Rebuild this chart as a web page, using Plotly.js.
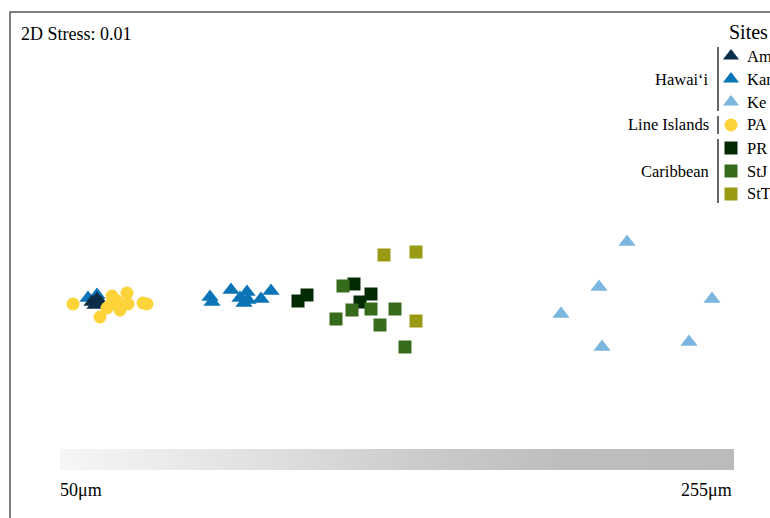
<!DOCTYPE html>
<html>
<head>
<meta charset="utf-8">
<script src="https://cdn.plot.ly/plotly-3.0.1.min.js"></script>
<style>html,body{margin:0;padding:0;background:#fff;}#chart{width:770px;height:518px;}</style>
</head>
<body>
<div id="chart"></div>
<script>
// NMDS coordinates per site
const am_x  = [0.42, 0.47, 0.45, 0.51];
const am_y  = [-0.02, 0.01, -0.05, -0.03];
const kan_x = [0.38, 0.47, 1.60, 1.62, 1.81, 1.97, 1.90, 1.94, 1.98, 2.11, 2.21];
const kan_y = [0.02, 0.05, 0.03, -0.02, 0.10, 0.08, 0.02, -0.03, 0.00, 0.01, 0.09];
const ke_x  = [5.77, 5.49, 6.62, 5.11, 5.52, 6.39];
const ke_y  = [0.58, 0.13, 0.01, -0.14, -0.47, -0.42];
const pa_x  = [0.23, 0.62, 0.77, 0.78, 0.60, 0.70, 0.50, 0.93, 0.97, 0.57, 0.67];
const pa_y  = [-0.04, 0.04, 0.07, -0.04, -0.05, -0.10, -0.17, -0.03, -0.04, -0.08, -0.01];
const pr_x  = [2.48, 2.57, 3.04, 3.10, 3.21];
const pr_y  = [-0.01, 0.05, 0.16, -0.02, 0.06];
const stj_x = [2.93, 3.02, 3.21, 3.45, 2.86, 3.30, 3.55];
const stj_y = [0.14, -0.10, -0.09, -0.09, -0.19, -0.25, -0.47];
const stt_x = [3.34, 3.66, 3.66];
const stt_y = [0.45, 0.48, -0.21];

const siteNames  = ["Am", "Kan", "Ke", "PA", "PR", "StJ", "StT"];
const regionNames = ["Hawai\u2018i", "Line Islands", "Caribbean"];
const regionSites = [[0, 2], [3, 3], [4, 6]];
const stressLabel = "2D Stress: 0.01";
const sizeLabels = ["50\u03bcm", "255\u03bcm"];

const W = 770, H = 518;
const px = x => x / W;
const py = y => 1 - y / H;
const FONT = "Liberation Serif";

const styles = {
  Am:  {color: "#0c2d48", symbol: "triangle-up", size: 15},
  Kan: {color: "#0b74b6", symbol: "triangle-up", size: 15},
  Ke:  {color: "#7ab6e0", symbol: "triangle-up", size: 15},
  PA:  {color: "#fdd33a", symbol: "circle", size: 13},
  PR:  {color: "#032b03", symbol: "square", size: 13},
  StJ: {color: "#376b1c", symbol: "square", size: 13},
  StT: {color: "#999913", symbol: "square", size: 13}
};
const siteData = {
  Am: [am_x, am_y], Kan: [kan_x, kan_y], Ke: [ke_x, ke_y], PA: [pa_x, pa_y],
  PR: [pr_x, pr_y], StJ: [stj_x, stj_y], StT: [stt_x, stt_y]
};
const drawOrder = ["Kan", "Ke", "Am", "PA", "PR", "StJ", "StT"];

const traces = drawOrder.map(s => ({
  type: "scatter", mode: "markers", name: s,
  x: siteData[s][0], y: siteData[s][1],
  marker: {color: styles[s].color, symbol: styles[s].symbol, size: styles[s].size, opacity: 1, line: {width: 0}},
  showlegend: false, hoverinfo: "skip", xaxis: "x", yaxis: "y"
}));

// legend markers (decoration, on a pixel-like overlay axis)
const legY0 = 56, legStep = 23, legSymX = 731, legTxtX = 745;
siteNames.forEach((s, i) => {
  traces.push({
    type: "scatter", mode: "markers",
    x: [legSymX], y: [legY0 + i * legStep],
    marker: {color: styles[s].color, symbol: styles[s].symbol,
      size: styles[s].symbol === "triangle-up" ? 14 : 13, opacity: 1, line: {width: 0}},
    showlegend: false, hoverinfo: "skip", xaxis: "x2", yaxis: "y2"
  });
});

// size gradient bar
const nGrad = 200;
const gradZ = [Array.from({length: nGrad}, (_, i) => i)];
traces.push({
  type: "heatmap", z: gradZ, xaxis: "x3", yaxis: "y3", showscale: false, hoverinfo: "skip",
  colorscale: [[0, "#f6f6f6"], [0.3, "#e0e0e0"], [0.55, "#cacaca"], [0.75, "#bebebe"], [1, "#bbbbbb"]]
});

const annotations = [];
annotations.push({text: stressLabel, xref: "paper", yref: "paper", x: px(19), y: py(34),
  xanchor: "left", yanchor: "middle", showarrow: false, font: {family: FONT, size: 18, color: "#000"}});
annotations.push({text: "Sites", xref: "paper", yref: "paper", x: px(748), y: py(32),
  xanchor: "center", yanchor: "middle", showarrow: false, font: {family: FONT, size: 20, color: "#000"}});
siteNames.forEach((s, i) => {
  annotations.push({text: s, xref: "paper", yref: "paper", x: px(legTxtX), y: py(legY0 + i * legStep),
    xanchor: "left", yanchor: "middle", showarrow: false, font: {family: FONT, size: 16.5, color: "#000"}});
});
const shapes = [];
regionNames.forEach((r, k) => {
  const [a, b] = regionSites[k];
  const yc = legY0 + (a + b) / 2 * legStep;
  annotations.push({text: r, xref: "paper", yref: "paper", x: px(711), y: py(yc),
    xanchor: "right", yanchor: "middle", showarrow: false, font: {family: FONT, size: 16.5, color: "#000"}});
  shapes.push({type: "line", xref: "paper", yref: "paper", x0: px(718), x1: px(718),
    y0: py(legY0 + a * legStep - 9), y1: py(legY0 + b * legStep + 9), line: {color: "#000", width: 1.2}});
});
annotations.push({text: sizeLabels[0], xref: "paper", yref: "paper", x: px(58), y: py(490),
  xanchor: "left", yanchor: "middle", showarrow: false, font: {family: FONT, size: 18, color: "#000"}});
annotations.push({text: sizeLabels[1], xref: "paper", yref: "paper", x: px(734), y: py(490),
  xanchor: "right", yanchor: "middle", showarrow: false, font: {family: FONT, size: 18, color: "#000"}});

// outer frame (extends beyond the visible window)
shapes.push({type: "rect", xref: "paper", yref: "paper", x0: px(10), x1: 1.1, y0: -0.1, y1: py(12),
  line: {color: "#555555", width: 1.5}, fillcolor: "rgba(0,0,0,0)"});

const hidden = {showgrid: false, zeroline: false, showticklabels: false, ticks: "", showline: false, fixedrange: true};
const layout = {
  width: W, height: H, margin: {l: 0, r: 0, t: 0, b: 0},
  paper_bgcolor: "#fff", plot_bgcolor: "rgba(0,0,0,0)",
  font: {family: FONT},
  xaxis: Object.assign({range: [-0.5, 7.2], domain: [0, 1]}, hidden),
  yaxis: Object.assign({range: [-2.18, 3.0], domain: [0, 1]}, hidden),
  xaxis2: Object.assign({range: [0, W], overlaying: "x", anchor: "y2"}, hidden),
  yaxis2: Object.assign({range: [H, 0], overlaying: "y", anchor: "x2"}, hidden),
  xaxis3: Object.assign({domain: [px(60), px(734)], anchor: "y3", range: [-0.5, nGrad - 0.5]}, hidden),
  yaxis3: Object.assign({domain: [py(470), py(449)], anchor: "x3"}, hidden),
  annotations: annotations, shapes: shapes, showlegend: false
};
Plotly.newPlot("chart", traces, layout, {displayModeBar: false, staticPlot: true});
</script>
</body>
</html>
